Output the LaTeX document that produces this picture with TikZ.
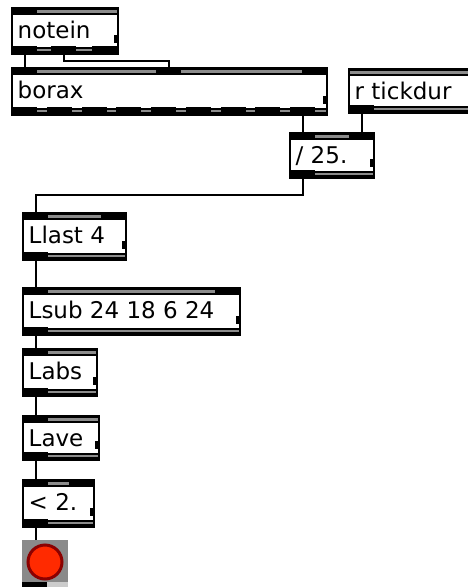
\documentclass[tikz,border=0pt]{standalone}
\usepackage{fontspec}
\setmainfont{DejaVu Sans}
\definecolor{portgray}{HTML}{8C8C8C}
\definecolor{ledgray}{HTML}{8A8A8A}
\definecolor{ledred}{HTML}{FF2A00}
\definecolor{ledrim}{HTML}{8B0000}
\tikzset{
  objframe/.style={draw=black, line width=2.2pt, fill=white, rectangle,
    anchor=north west, inner sep=0pt, outer sep=0pt},
  objlabel/.style={anchor=base west, inner sep=0pt,
    font=\fontsize{23}{24}\selectfont},
  cord/.style={draw=black, line width=2.5pt},
}

% A patcher object box:
% #1 name, #2 left, #3 top, #4 right, #5 bottom, #6 label,
% #7 left edges of the inlets, #8 left edges of the outlets
\newcommand{\maxobj}[8]{%
  \pgfmathsetmacro\objw{#4-#2}%
  \pgfmathsetmacro\objh{#5-#3}%
  \node[objframe, minimum width=\objw pt, minimum height=\objh pt] (#1) at (#2,#3) {};
  % top band with inlets
  \fill[black] (#2,#3) rectangle (#4,#3+7);
  \fill[portgray] (#2+1,#3+2.3) rectangle (#4-1,#3+4.8);
  \def\inlist{#7}%
  \ifx\inlist\empty\else
    \foreach \px [count=\k] in {#7} {
      \fill[black] (\px,#3) rectangle (\px+25,#3+7);
      \coordinate (#1-i\k) at (\px+13,#3);
    }
  \fi
  % bottom band with outlets
  \fill[black] (#2,#5-7.5) rectangle (#4,#5);
  \fill[portgray] (#2+1,#5-5.3) rectangle (#4-1,#5-2.8);
  \foreach \px [count=\k] in {#8} {
    \fill[black] (\px,#5-8.5) rectangle (\px+25,#5);
    \coordinate (#1-o\k) at (\px+13,#5);
  }
  % resize tab
  \fill[black] (#4-4,#5-19) rectangle (#4,#5-11);
  \node[objlabel] (#1-label) at (#2+5.5,#3+30) {#6};
}

\begin{document}
\begin{tikzpicture}[x=1pt, y=-1pt]
  \useasboundingbox (0,0) rectangle (468,587);

  \maxobj{notein}{12}{8}{118}{54}{notein}{12}{12,51,92}
  \maxobj{borax}{12}{68}{327}{115}{borax}{12,156,302}%
    {12,46.75,81.5,116.25,151,185.75,220.5,255.25,290}
  \maxobj{tickdur}{349}{69}{490}{113}{r tickdur}{}{349}
  \maxobj{slash}{290}{133}{374}{178}{/ 25.}{290,349}{290}
  \maxobj{llast}{23}{213}{126}{260}{Llast 4}{23,101}{23}
  \maxobj{lsub}{23}{288}{240}{335}{Lsub 24 18 6 24}{23,215}{23}
  \maxobj{labs}{23}{349}{97}{396}{Labs}{23}{23}
  \maxobj{lave}{23}{416}{99}{460}{Lave}{23}{23}
  \maxobj{lt}{23}{480}{94}{527}{< 2.}{23,69}{23}

  % LED
  \node[fill=ledgray, anchor=north west, minimum width=46pt, minimum height=44pt,
        inner sep=0pt, outer sep=0pt] (led) at (22,540) {};
  \coordinate (led-i1) at (36,540);
  \fill[black] (22,582) rectangle (47,587);
  \fill[gray!40] (47,582) rectangle (68,587);
  \node[circle, fill=ledred, draw=ledrim, line width=3pt, minimum size=34pt,
        inner sep=0pt] (lamp) at (45,562) {};

  % patch cords
  \draw[cord] (notein-o1) -- (borax-i1);
  \draw[cord] (notein-o2) -- ++(0,7) -| (borax-i2);
  \draw[cord] (borax-o9) -- (slash-i1);
  \draw[cord] (tickdur-o1) -- (slash-i2);
  \draw[cord] (slash-o1) -- ++(0,17) -| (llast-i1);
  \draw[cord] (llast-o1) -- (lsub-i1);
  \draw[cord] (lsub-o1) -- (labs-i1);
  \draw[cord] (labs-o1) -- (lave-i1);
  \draw[cord] (lave-o1) -- (lt-i1);
  \draw[cord] (lt-o1) -- (led-i1);
\end{tikzpicture}
\end{document}
